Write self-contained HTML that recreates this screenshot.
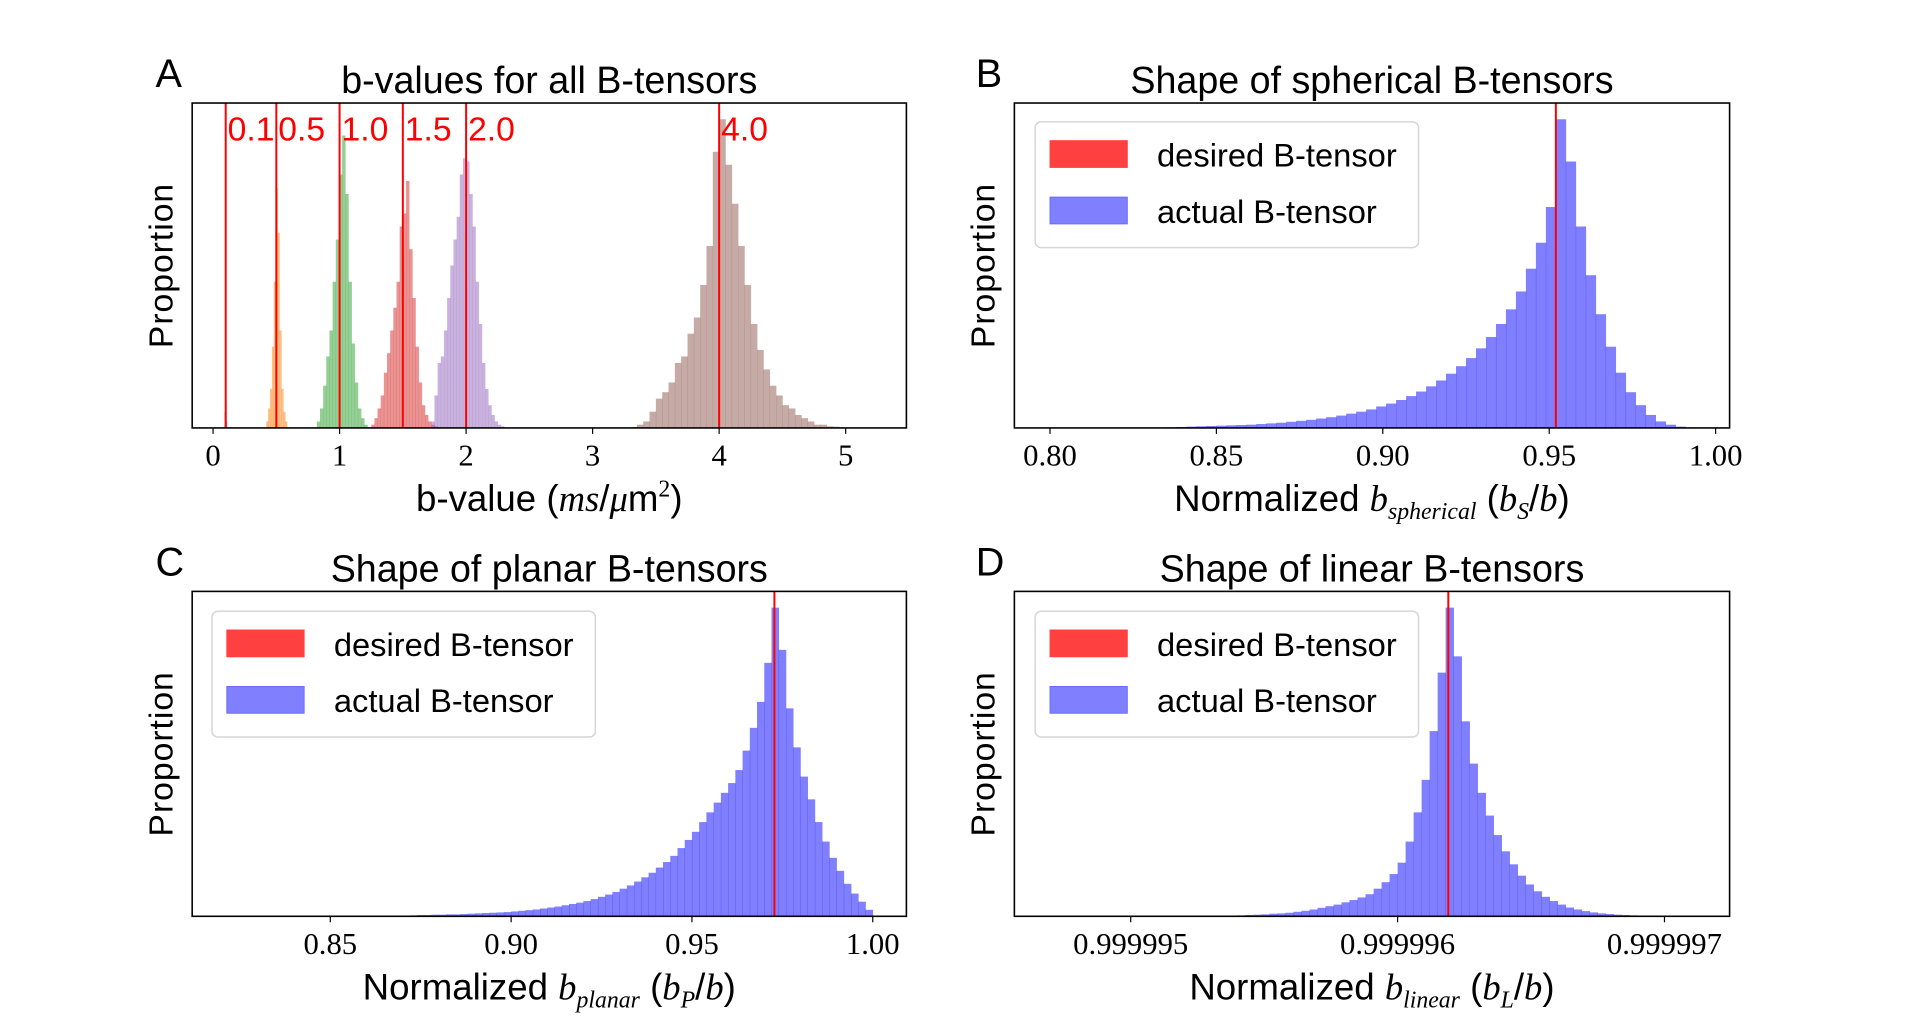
<!DOCTYPE html>
<html><head><meta charset="utf-8"><style>
html,body{margin:0;padding:0;background:#fff;}
svg{display:block;}
text{font-family:"Liberation Sans",sans-serif;}
.tick{font-family:"Liberation Serif",serif;font-size:31px;}
</style></head><body>
<svg id="fig" width="1920" height="1017" viewBox="0 0 1920 1017"><g id="root" transform="scale(0.9906)"></g></svg>
<script>
// ---- Panel A data (bin start, bin width, heights as fraction of axis height)
const aTargets = [0.1, 0.5, 1.0, 1.5, 2.0, 4.0];
const aTargetLabels = ["0.1", "0.5", "1.0", "1.5", "2.0", "4.0"];
const aTicks = [0, 1, 2, 3, 4, 5];
const blueStart = 0.09, blueWidth = 0.005;
const blueHeights = [0.05, 0.146, 0.08, 0.02];
const orangeStart = 0.42, orangeWidth = 0.015;
const orangeHeights = [0.02, 0.06, 0.12, 0.25, 0.45, 0.74, 0.6, 0.3, 0.12, 0.05, 0.02];
const greenStart = 0.82, greenWidth = 0.025;
const greenHeights = [0.02, 0.06, 0.13, 0.22, 0.3, 0.45, 0.58, 0.78, 0.9, 0.72, 0.45, 0.26, 0.14, 0.06, 0.03, 0.01];
const redStart = 1.25, redWidth = 0.025;
const redHeights = [0.01, 0.03, 0.06, 0.1, 0.17, 0.23, 0.3, 0.37, 0.45, 0.62, 0.66, 0.76, 0.55, 0.4, 0.25, 0.14, 0.07, 0.04, 0.02, 0.01, 0.005];
const purpleStart = 1.725, purpleWidth = 0.025;
const purpleHeights = [0.02, 0.1, 0.2, 0.22, 0.3, 0.4, 0.5, 0.58, 0.65, 0.78, 0.83, 0.82, 0.72, 0.62, 0.45, 0.32, 0.2, 0.12, 0.07, 0.04, 0.02, 0.01, 0.005];
const brownStart = 3.30, brownWidth = 0.05;
const brownHeights = [0.003, 0.01, 0.02, 0.05, 0.09, 0.11, 0.14, 0.2, 0.22, 0.29, 0.34, 0.44, 0.56, 0.85, 0.95, 0.81, 0.69, 0.56, 0.44, 0.32, 0.24, 0.18, 0.13, 0.1, 0.07, 0.06, 0.04, 0.03, 0.02, 0.01, 0.01, 0.005, 0.004];
// ---- Panel B (spherical)
const bTicks = [0.80, 0.85, 0.90, 0.95, 1.00];
const bTickLabels = ["0.80", "0.85", "0.90", "0.95", "1.00"];
const bTarget = 0.952;
const bStart = 0.835, bWidth = 0.003;
const bHeights = [0.002,0.003,0.004,0.005,0.006,0.007,0.008,0.009,0.01,0.012,0.014,0.016,0.019,0.022,0.025,0.029,0.033,0.038,0.044,0.05,0.057,0.066,0.075,0.086,0.098,0.112,0.128,0.146,0.167,0.19,0.215,0.245,0.28,0.32,0.365,0.42,0.49,0.57,0.68,0.95,0.82,0.62,0.47,0.35,0.25,0.17,0.11,0.07,0.04,0.02,0.01,0.004];
// ---- Panel C (planar)
const cTicks = [0.85, 0.90, 0.95, 1.00];
const cTickLabels = ["0.85", "0.90", "0.95", "1.00"];
const cTarget = 0.9728;
const cStart = 0.872, cWidth = 0.002;
const cHeights = [0.003,0.004,0.004,0.005,0.005,0.006,0.006,0.007,0.008,0.009,0.010,0.011,0.012,0.013,0.015,0.017,0.019,0.021,0.024,0.027,0.030,0.034,0.038,0.042,0.047,0.053,0.060,0.067,0.075,0.085,0.095,0.107,0.12,0.134,0.15,0.167,0.186,0.21,0.235,0.26,0.29,0.32,0.35,0.38,0.41,0.45,0.51,0.58,0.66,0.78,0.95,0.82,0.64,0.52,0.43,0.36,0.29,0.23,0.18,0.14,0.1,0.07,0.045,0.02];
// ---- Panel D (linear)
const dTicks = [0.999995, 0.999996, 0.999997];
const dTickLabels = ["0.999995", "0.999996", "0.999997"];
const dTarget = 0.99999619;
const dStart = 0.9999954, dWidth = 0.00000003;
const dHeights = [0.003,0.004,0.005,0.006,0.008,0.009,0.011,0.014,0.017,0.021,0.026,0.031,0.036,0.043,0.05,0.058,0.068,0.085,0.105,0.13,0.165,0.23,0.32,0.42,0.57,0.75,0.95,0.80,0.6,0.47,0.38,0.31,0.25,0.2,0.16,0.125,0.098,0.077,0.06,0.047,0.036,0.027,0.021,0.016,0.012,0.009,0.007,0.005,0.004,0.003,0.002];

const NS = "http://www.w3.org/2000/svg";
const svg = document.getElementById("root");
function el(tag, attrs, parent, txt) {
  const e = document.createElementNS(NS, tag);
  for (const k in attrs) e.setAttribute(k, attrs[k]);
  if (txt !== undefined) e.textContent = txt;
  (parent || svg).appendChild(e);
  return e;
}
function makeAxes(name, L, R, T, B, x0, x1) {
  const g = el("g", {});
  
  
  const xs = v => L + (v - x0) / (x1 - x0) * (R - L);
  const ys = f => B - f * (B - T);
  return {g, xs, ys, L, R, T, B};
}
function hist(ax, start, width, heights, color, opacity, name) {
  const g = el("g", {}, ax.g);
  
  
  heights.forEach((h, i) => {
    const xa = ax.xs(start + i * width), xb = ax.xs(start + (i + 1) * width);
    const r = el("rect", {x: xa, y: ax.ys(h), width: Math.max(xb - xa, 0.5) + 0.3, height: ax.B - ax.ys(h), fill: color, "fill-opacity": opacity}, g);
    
    
  });
}
function vline(ax, v, name) {
  const l = el("line", {x1: ax.xs(v), x2: ax.xs(v), y1: ax.T, y2: ax.B, stroke: "#ff0000", "stroke-width": 2}, ax.g);
  
  
}
function frame(ax, ticks, labels) {
  const f = el("rect", {x: ax.L, y: ax.T, width: ax.R - ax.L, height: ax.B - ax.T, fill: "none", stroke: "#000", "stroke-width": 1.6}, ax.g);
  
  
  ticks.forEach((t, i) => {
    const x = ax.xs(t);
    el("line", {x1: x, x2: x, y1: ax.B, y2: ax.B + 6, stroke: "#000", "stroke-width": 1.2}, ax.g);
    const tx = el("text", {x: x, y: ax.B + 38, "text-anchor": "middle", class: "tick"}, ax.g, labels[i]);
    
    
  });
}
function ylabel(ax) {
  const cy = (ax.T + ax.B) / 2, cx = ax.L - 20;
  const t = el("text", {x: cx, y: cy, transform: `rotate(-90 ${cx} ${cy})`, "text-anchor": "middle", "font-size": 34, "letter-spacing": "1"}, ax.g, "Proportion");
  
  
}
function title(ax, txt, letter, lx) {
  const t = el("text", {x: (ax.L + ax.R) / 2, y: ax.T - 10, "text-anchor": "middle", "font-size": 38}, ax.g, txt);
  
  
  const p = el("text", {x: lx, y: ax.T - 16, "font-size": 40}, ax.g, letter);
  
  
}
function xlabel(ax, html) {
  const t = el("text", {x: (ax.L + ax.R) / 2, y: ax.B + 84, "text-anchor": "middle", "font-size": 37}, ax.g);
  t.innerHTML = html;
  
  
}
function legend(ax, x, y) {
  const g = el("g", {}, ax.g);
  
  
  el("rect", {x: x, y: y, width: 387, height: 127, rx: 6, fill: "#fff", "fill-opacity": 0.85, stroke: "#d6d6d6", "stroke-width": 1.5}, g);
  el("rect", {x: x + 15, y: y + 19, width: 78, height: 27, fill: "#ff4040", stroke: "#ff4040"}, g);
  el("rect", {x: x + 15, y: y + 76, width: 78, height: 27, fill: "#8080ff", stroke: "#6a6aff"}, g);
  const t1 = el("text", {x: x + 123, y: y + 45, "font-size": 33}, g, "desired B-tensor");
  
  
  const t2 = el("text", {x: x + 123, y: y + 102, "font-size": 33}, g, "actual B-tensor");
  
  
}
const MI = 'font-family="Liberation Serif" font-style="italic"';
const SER = 'font-family="Liberation Serif"';

// Panel A
const A = makeAxes("panel-a-bvalues", 194, 915, 104, 432, -0.165, 5.48);
hist(A, blueStart, blueWidth, blueHeights, "#1f77b4", 0.5, "hist-b0.1");
hist(A, orangeStart, orangeWidth, orangeHeights, "#ff7f0e", 0.5, "hist-b0.5");
hist(A, greenStart, greenWidth, greenHeights, "#2ca02c", 0.5, "hist-b1.0");
hist(A, redStart, redWidth, redHeights, "#d62728", 0.5, "hist-b1.5");
hist(A, purpleStart, purpleWidth, purpleHeights, "#9467bd", 0.5, "hist-b2.0");
hist(A, brownStart, brownWidth, brownHeights, "#8c564b", 0.5, "hist-b4.0");
aTargets.forEach((v, i) => {
  vline(A, v, 'target-line-' + aTargetLabels[i]);
  const t = el("text", {x: A.xs(v) + 2, y: A.T + 38, fill: "#ff0000", "font-size": 34}, A.g, aTargetLabels[i]);
  
  
});
frame(A, aTicks, aTicks.map(String));
ylabel(A);
title(A, "b-values for all B-tensors", "A", 157);
xlabel(A, 'b-value (<tspan ' + MI + '>ms</tspan>/<tspan ' + MI + '>μ</tspan>m<tspan ' + SER + ' font-size="24" dy="-15">2</tspan><tspan dy="15">)</tspan>');

// Panel B
const Bx = makeAxes("panel-b-spherical", 1024, 1746, 104, 432, 0.7893, 1.0042);
hist(Bx, bStart, bWidth, bHeights, "#0000ff", 0.5, "hist-spherical");
vline(Bx, bTarget, "target-line");
frame(Bx, bTicks, bTickLabels);
legend(Bx, 1045, 123);
ylabel(Bx);
title(Bx, "Shape of spherical B-tensors", "B", 985);
xlabel(Bx, 'Normalized <tspan ' + MI + '>b</tspan><tspan ' + MI + ' font-size="24" dy="8">spherical</tspan><tspan dy="-8"> (</tspan><tspan ' + MI + '>b</tspan><tspan ' + MI + ' font-size="24" dy="8">S</tspan><tspan dy="-8">/</tspan><tspan ' + MI + '>b</tspan>)');

// Panel C
const Cx = makeAxes("panel-c-planar", 194, 915, 597, 925, 0.8118, 1.0093);
hist(Cx, cStart, cWidth, cHeights, "#0000ff", 0.5, "hist-planar");
vline(Cx, cTarget, "target-line");
frame(Cx, cTicks, cTickLabels);
legend(Cx, 214, 617);
ylabel(Cx);
title(Cx, "Shape of planar B-tensors", "C", 157);
xlabel(Cx, 'Normalized <tspan ' + MI + '>b</tspan><tspan ' + MI + ' font-size="24" dy="8">planar</tspan><tspan dy="-8"> (</tspan><tspan ' + MI + '>b</tspan><tspan ' + MI + ' font-size="24" dy="8">P</tspan><tspan dy="-8">/</tspan><tspan ' + MI + '>b</tspan>)');

// Panel D
const Dx = makeAxes("panel-d-linear", 1024, 1746, 597, 925, 0.999995 - 0.436e-6, 0.999995 + 2.244e-6);
hist(Dx, dStart, dWidth, dHeights, "#0000ff", 0.5, "hist-linear");
vline(Dx, dTarget, "target-line");
frame(Dx, dTicks, dTickLabels);
legend(Dx, 1045, 617);
ylabel(Dx);
title(Dx, "Shape of linear B-tensors", "D", 985);
xlabel(Dx, 'Normalized <tspan ' + MI + '>b</tspan><tspan ' + MI + ' font-size="24" dy="8">linear</tspan><tspan dy="-8"> (</tspan><tspan ' + MI + '>b</tspan><tspan ' + MI + ' font-size="24" dy="8">L</tspan><tspan dy="-8">/</tspan><tspan ' + MI + '>b</tspan>)');
</script>
</body></html>
